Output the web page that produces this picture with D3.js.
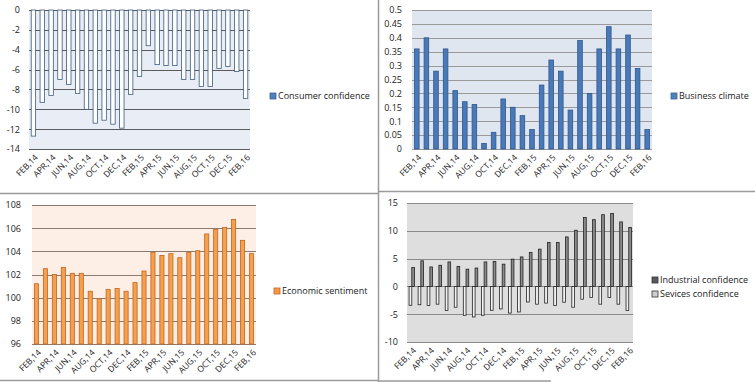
<!DOCTYPE html>
<html>
<head>
<meta charset="utf-8">
<script src="https://cdn.jsdelivr.net/npm/d3@7"></script>
<style>
  html, body { margin: 0; padding: 0; background: #fff; }
  svg { display: block; }
  text { font-family: "Open Sans", "DejaVu Sans", sans-serif; }
</style>
</head>
<body>
<svg id="chart" width="755" height="382"></svg>
<script>
// ---------------- DATA ----------------
const months = ["FEB,14","MAR,14","APR,14","MAY,14","JUN,14","JUL,14","AUG,14","SEP,14","OCT,14","NOV,14","DEC,14","JAN,15",
  "FEB,15","MAR,15","APR,15","MAY,15","JUN,15","JUL,15","AUG,15","SEP,15","OCT,15","NOV,15","DEC,15","JAN,16","FEB,16"];
const shownMonthLabels = ["FEB,14","APR,14","JUN,14","AUG,14","OCT,14","DEC,14","FEB,15","APR,15","JUN,15","AUG,15","OCT,15","DEC,15","FEB,16"];

const consumerConfidence = [-12.7,-9.3,-8.6,-7.0,-7.5,-8.4,-10.0,-11.4,-11.1,-11.5,-11.9,-8.5,-6.7,-3.6,-5.5,-5.6,-5.6,-7.0,-7.0,-7.7,-7.7,-5.9,-5.7,-6.2,-8.9];
const businessClimate = [0.36,0.40,0.28,0.36,0.21,0.17,0.16,0.02,0.06,0.18,0.15,0.12,0.07,0.23,0.32,0.28,0.14,0.39,0.20,0.36,0.44,0.36,0.41,0.29,0.07];
const economicSentiment = [101.2,102.5,102.0,102.6,102.1,102.1,100.55,99.9,100.7,100.8,100.55,101.3,102.3,103.9,103.65,103.8,103.45,103.9,104.05,105.5,105.9,106.05,106.75,104.95,103.8];
const industrialConfidence = [3.4,4.6,3.5,3.8,4.4,3.6,3.1,3.3,4.4,4.5,4.0,4.9,5.3,6.1,6.7,7.9,7.9,8.9,10.1,12.4,12.0,12.9,13.1,11.6,10.6];
const servicesConfidence = [-3.4,-3.3,-3.45,-3.2,-4.35,-3.75,-5.2,-5.5,-5.2,-4.3,-4.05,-4.8,-4.6,-2.8,-3.2,-3.0,-3.45,-2.85,-3.75,-2.3,-2.0,-3.2,-2.0,-3.2,-4.35];

const ticksConsumer = [0,-2,-4,-6,-8,-10,-12,-14];
const ticksBusiness = [0,0.05,0.1,0.15,0.2,0.25,0.3,0.35,0.4,0.45,0.5];
const ticksSentiment = [96,98,100,102,104,106,108];
const ticksConfidence = [-10,-5,0,5,10,15];

// ---------------- DRAWING ----------------
const svg = d3.select("#chart");

// panel separators
const sep = svg.append("g").attr("stroke", "#9a9a9a").attr("stroke-width", 1.5);
sep.append("line").attr("x1", 378.5).attr("x2", 378.5).attr("y1", 0).attr("y2", 382);
sep.append("line").attr("x1", 0).attr("x2", 378).attr("y1", 193.5).attr("y2", 193.5);
sep.append("line").attr("x1", 378).attr("x2", 755).attr("y1", 191.5).attr("y2", 191.5);
sep.append("line").attr("x1", 0).attr("x2", 378).attr("y1", 380.5).attr("y2", 380.5);
sep.append("line").attr("x1", 378).attr("x2", 551).attr("y1", 381).attr("y2", 381);

function panel(opt) {
  const g = svg.append("g");
  const x = d3.scaleBand().domain(months).range([opt.x0, opt.x1]).paddingInner(0).paddingOuter(0);
  const y = d3.scaleLinear().domain(opt.domain).range([opt.y1, opt.y0]);

  g.append("rect").attr("x", opt.x0).attr("y", opt.y0)
    .attr("width", opt.x1 - opt.x0).attr("height", opt.y1 - opt.y0)
    .attr("fill", opt.bg);

  // gridlines
  g.append("g").selectAll("line").data(opt.ticks).join("line")
    .attr("x1", opt.x0).attr("x2", opt.x1)
    .attr("y1", d => Math.round(y(d)) + 0.5).attr("y2", d => Math.round(y(d)) + 0.5)
    .attr("stroke", opt.grid).attr("stroke-width", 1);

  // y axis labels
  const yAxis = d3.axisLeft(y).tickValues(opt.ticks).tickSize(0).tickPadding(0)
    .tickFormat(d => String(d));
  const ya = g.append("g").attr("transform", `translate(${opt.labelX},0)`).call(yAxis);
  ya.select(".domain").remove();
  ya.selectAll("text").attr("font-size", 9).attr("fill", "#222")
    .attr("font-family", "'Open Sans', sans-serif");

  // bars
  opt.series.forEach(s => {
    const bw = x.bandwidth() * s.w;
    g.append("g").selectAll("rect").data(s.values).join("rect")
      .attr("x", (d, i) => x(months[i]) + x.bandwidth() / 2 + s.off * x.bandwidth() - bw / 2)
      .attr("y", d => Math.min(y(d), y(s.base)))
      .attr("width", bw)
      .attr("height", d => Math.abs(y(d) - y(s.base)))
      .attr("fill", s.fill).attr("stroke", s.stroke).attr("stroke-width", 0.8);
  });

  // x axis labels
  const xAxis = d3.axisBottom(x).tickValues(shownMonthLabels).tickSize(0).tickPadding(0);
  const xa = g.append("g").attr("transform", `translate(0,${opt.y1})`).call(xAxis);
  xa.select(".domain").remove();
  xa.selectAll("text")
    .attr("font-size", 8.5).attr("fill", "#222")
    .attr("text-anchor", "end")
    .attr("dy", "0.35em")
    .attr("transform", "translate(3,7) rotate(-45)");

  // legend
  opt.legend.forEach((l, i) => {
    const ly = opt.legendY + i * 14;
    g.append("rect").attr("x", opt.legendX).attr("y", ly - 3).attr("width", 6).attr("height", 6)
      .attr("fill", l.fill).attr("stroke", l.stroke).attr("stroke-width", 0.8);
    g.append("text").attr("x", opt.legendX + 8).attr("y", ly).attr("dy", "0.35em")
      .attr("font-size", 9).attr("fill", "#222").text(l.name);
  });
}

panel({
  x0: 29, x1: 250, y0: 10, y1: 149, domain: [-14, 0], ticks: ticksConsumer, labelX: 20,
  bg: "#e9eef6", grid: "#5a5a5a",
  series: [{ values: consumerConfidence, base: 0, w: 0.5, off: 0, fill: "#ffffff", stroke: "#3c5a7c" }],
  legend: [{ name: "Consumer confidence", fill: "#4f81bd", stroke: "#3a6496" }],
  legendX: 270, legendY: 96
});

panel({
  x0: 412, x1: 652, y0: 10, y1: 149, domain: [0, 0.5], ticks: ticksBusiness, labelX: 402,
  bg: "#dfe6f0", grid: "#9a9a9a",
  series: [{ values: businessClimate, base: 0, w: 0.48, off: 0, fill: "#4a79b8", stroke: "#2d568e" }],
  legend: [{ name: "Business climate", fill: "#4f81bd", stroke: "#3a6496" }],
  legendX: 671, legendY: 96
});

panel({
  x0: 32, x1: 256, y0: 205, y1: 344, domain: [96, 108], ticks: ticksSentiment, labelX: 21,
  bg: "#fdeee6", grid: "#8c7a70",
  series: [{ values: economicSentiment, base: 96, w: 0.46, off: 0, fill: "#f5a04e", stroke: "#c4641e" }],
  legend: [{ name: "Economic sentiment", fill: "#f79646", stroke: "#c4641e" }],
  legendX: 274, legendY: 291
});

panel({
  x0: 407, x1: 633, y0: 203, y1: 342, domain: [-10, 15], ticks: ticksConfidence, labelX: 398,
  bg: "#dedede", grid: "#8a8a8a",
  series: [
    { values: servicesConfidence, base: 0, w: 0.3, off: -0.12, fill: "#f2f2f2", stroke: "#222" },
    { values: industrialConfidence, base: 0, w: 0.3, off: 0.18, fill: "#8a8a8a", stroke: "#222" }
  ],
  legend: [
    { name: "Industrial confidence", fill: "#5a5a5a", stroke: "#333" },
    { name: "Sevices confidence", fill: "#cfcfcf", stroke: "#333" }
  ],
  legendX: 652, legendY: 280
});
</script>
</body>
</html>
